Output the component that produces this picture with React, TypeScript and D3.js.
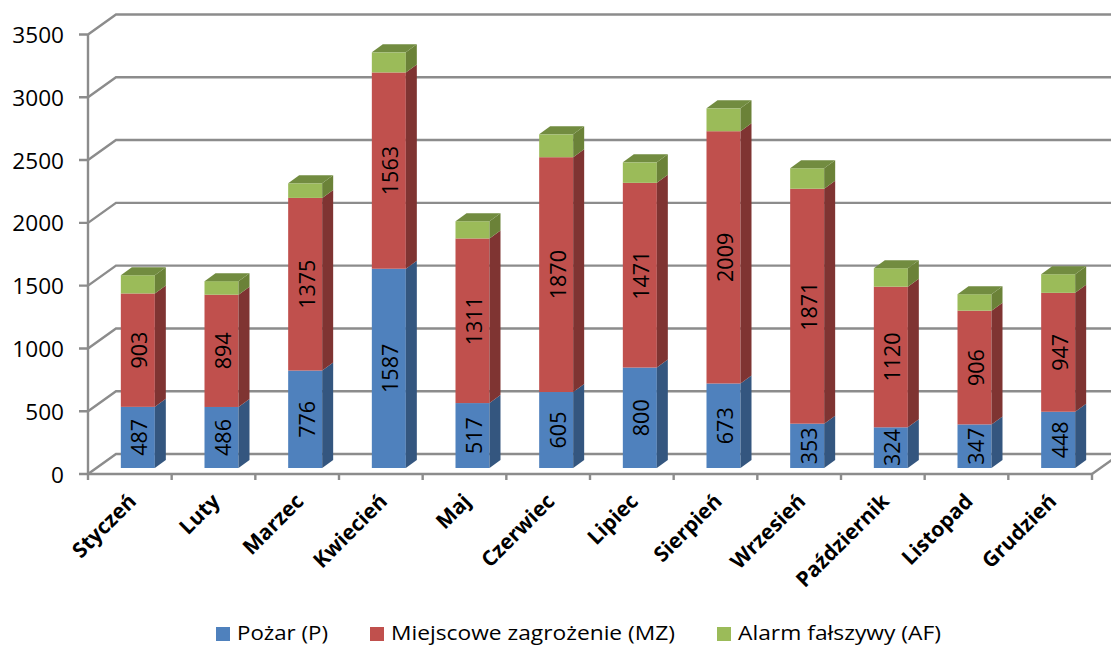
import React from "react";
import * as d3 from "d3";

const categories = ["Styczeń","Luty","Marzec","Kwiecień","Maj","Czerwiec","Lipiec","Sierpień","Wrzesień","Październik","Listopad","Grudzień"];
const pozar = [487,486,776,1587,517,605,800,673,353,324,347,448];
const miejscowe = [903,894,1375,1563,1311,1870,1471,2009,1871,1120,906,947];
const alarm = [145,108,116,160,137,182,163,182,163,147,131,148];
const yTicks = [0,500,1000,1500,2000,2500,3000,3500];
const seriesNames = ["Pożar (P)","Miejscowe zagrożenie (MZ)","Alarm fałszywy (AF)"];
const frontColors = ["#4F81BD","#C0504D","#9BBB59"];
const sideColors = ["#34567F","#7F3432","#6B8238"];
const topColor = "#728C40";
const gridColor = "#8C8C8C";
const FONT = "'Open Sans', 'Noto Sans', sans-serif";
const W = 1111, H = 646;
const DX = 28, DY = 20;
const BDX = 11, BDY = 8;
const BAR_W = 34;

export default function App() {
  const x = d3.scaleBand<string>().domain(categories).range([88, 1092]);
  const y = d3.scaleLinear().domain([0, 3500]).range([474, 34.5]);
  const base = 6; // bars stand slightly behind the front edge of the floor
  const stack = d3.stack<number>().keys(["0","1","2"]).value((i, k) => [pozar, miejscowe, alarm][+k][i]);
  const layers = stack(categories.map((_, i) => i));
  const fy = (v: number) => y(v) - base;
  const barX = (c: string) => x(c)! + x.bandwidth() / 2 + 8 - BAR_W / 2;
  const poly = (p: number[][]) => p.map(a => a.join(",")).join(" ");
  const [x0, x1] = x.range();
  const y0 = y(0);
  return (
    <svg width={W} height={H} viewBox={`0 0 ${W} ${H}`} style={{ position: "absolute", left: 0, top: 0, display: "block", background: "#fff" }}>
      <g fill="none" stroke={gridColor} strokeWidth={2.4}>
        {yTicks.map(t => (
          <polyline key={t} points={poly([[x0 - 9, y(t)], [x0, y(t)], [x0 + DX, y(t) - DY], [W, y(t) - DY]])} />
        ))}
        <line x1={x0} x2={x0} y1={y(3500)} y2={y0 + 1} />
        <line x1={x0} x2={x1} y1={y0} y2={y0} />
        <line x1={x1} x2={x1 + DX} y1={y0} y2={y0 - DY} />
        {[...categories.map(c => x(c)!), x1].map((t, i) => (
          <line key={i} x1={t} x2={t} y1={y0} y2={y0 + 6} />
        ))}
      </g>
      {yTicks.map(t => (
        <text key={t} x={64} y={y(t)} textAnchor="end" dominantBaseline="central" fontFamily={FONT} fontSize={22.6} fill="#000">{t}</text>
      ))}
      {categories.map((c, i) => {
        const bx = barX(c);
        return (
          <g key={c}>
            {layers.map((l, s) => {
              const top = fy(l[i][1]);
              const bot = fy(l[i][0]);
              return (
                <g key={s}>
                  <rect x={bx} y={top} width={BAR_W} height={bot - top} fill={frontColors[s]} />
                  <polygon points={poly([[bx + BAR_W, top], [bx + BAR_W + BDX, top - BDY], [bx + BAR_W + BDX, bot - BDY], [bx + BAR_W, bot]])} fill={sideColors[s]} />
                  {s === 2 && (
                    <polygon points={poly([[bx, top], [bx + BAR_W, top], [bx + BAR_W + BDX, top - BDY], [bx + BDX, top - BDY]])} fill={topColor} />
                  )}
                  {s < 2 && (
                    <text transform={`translate(${bx + BAR_W / 2 + 1},${(top + bot) / 2}) rotate(-90)`} textAnchor="middle" dominantBaseline="central" fontFamily={FONT} fontSize={21.5} fill="#000">
                      {[pozar, miejscowe][s][i]}
                    </text>
                  )}
                </g>
              );
            })}
          </g>
        );
      })}
      {categories.map(c => (
        <text key={c} transform={`translate(${x(c)! + x.bandwidth() / 2 + 2},${497}) rotate(-45)`} textAnchor="end" dominantBaseline="central" fontFamily={FONT} fontSize={21} fontWeight={700} fill="#000">{c}</text>
      ))}
      {seriesNames.map((n, i) => {
        const sx = [216, 370, 717][i];
        const tw = [91, 284, 203][i];
        return (
          <g key={n}>
            <rect x={sx} y={627} width={14} height={14} fill={frontColors[i]} />
            <text x={sx + 21} y={632} dominantBaseline="central" fontFamily={FONT} fontSize={20.5} textLength={tw} lengthAdjust="spacingAndGlyphs" fill="#000">{n}</text>
          </g>
        );
      })}
    </svg>
  );
}
